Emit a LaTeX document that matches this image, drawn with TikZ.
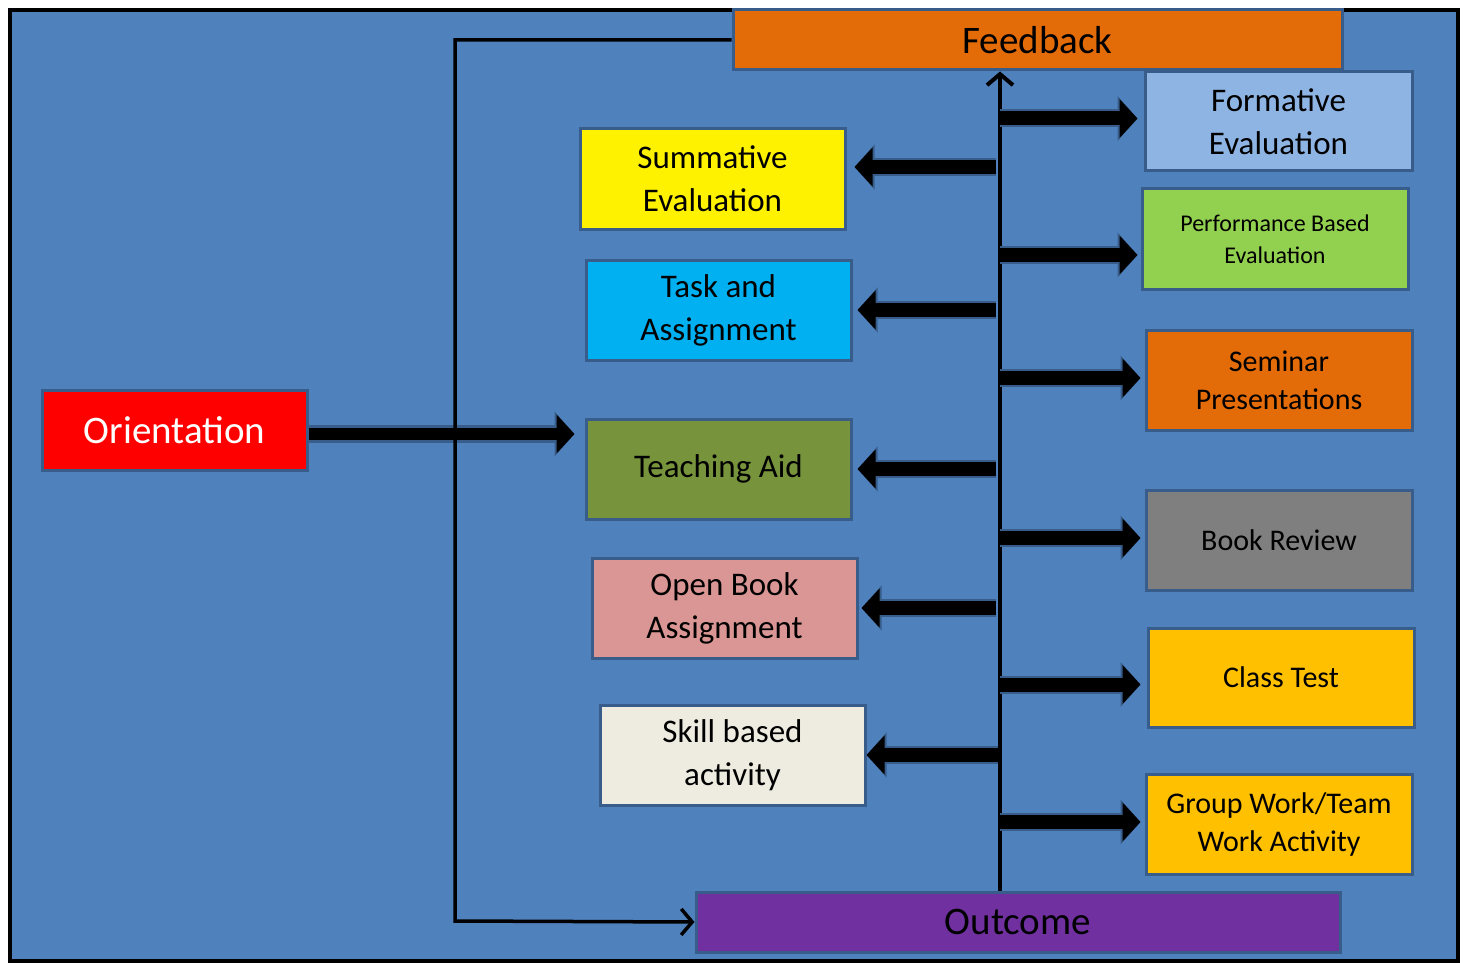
\documentclass[tikz,border=0pt]{standalone}
\usepackage{fontspec}
\setmainfont{Carlito}
\usetikzlibrary{arrows.meta}
\usetikzlibrary{positioning}
\definecolor{bgblue}{HTML}{4F81BD}
\definecolor{boxedge}{HTML}{385D8A}
\definecolor{fborange}{HTML}{E36C09}
\definecolor{formblue}{HTML}{8EB4E3}
\definecolor{perfgreen}{HTML}{92D050}
\definecolor{bookgray}{HTML}{7F7F7F}
\definecolor{amber}{HTML}{FFC000}
\definecolor{taskcyan}{HTML}{00B0F0}
\definecolor{olive}{HTML}{77933C}
\definecolor{rosy}{HTML}{D99694}
\definecolor{cream}{HTML}{EEECE1}
\definecolor{purple}{HTML}{7030A0}
\tikzset{
    box/.style={draw=boxedge, line width=3pt, minimum width=265pt, minimum height=100pt, align=center, inner sep=0pt, text=black},
    bigtext/.style={font=\fontsize{39}{46}\selectfont},
    midtext/.style={font=\fontsize{33}{43}\selectfont},
    lowtext/.style={font=\fontsize{30}{38}\selectfont},
    smalltext/.style={font=\fontsize{24}{32}\selectfont},
    fat/.style={line width=14pt, -{Triangle[length=18pt,width=38pt]}, preaction={draw=boxedge, line width=18pt, -{Triangle[length=20pt,width=44pt]}}},
    thin/.style={line width=3.5pt, -{Straight Barb[length=11pt,width=26pt]}}
}
\begin{document}
\begin{tikzpicture}[x=1pt, y=-1pt]
  \useasboundingbox (0,0) rectangle (1468,963);
  \fill[white] (0,0) rectangle (1468,963);
  \draw[fill=bgblue, line width=4pt] (10,10) rectangle (1458,961);
  % top and bottom bars
  \node[box, bigtext, fill=fborange, minimum width=609pt, minimum height=60pt] (feedback) at (1037.5,40) {Feedback};
  \node[box, bigtext, fill=purple, minimum width=644pt, minimum height=60pt] (outcome) at (1018,922) {Outcome};
  \node[box, bigtext, fill=red, text=white, minimum height=80pt] (orient) at (174.5,430) {Orientation};
  % left column
  \node[box, midtext, fill=yellow] (summ) at (712.5,179) {Summative\\Evaluation};
  \node[box, midtext, fill=taskcyan] (task) at (718.5,310) {Task and\\Assignment};
  \node[box, midtext, fill=olive] (teach) at (718.5,469) {Teaching Aid};
  \node[box, midtext, fill=rosy] (openbook) at (724.5,608) {Open Book\\Assignment};
  \node[box, midtext, fill=cream] (skill) at (732.5,755) {Skill based\\activity};
  % right column
  \node[box, midtext, fill=formblue, minimum width=267pt, minimum height=99pt] (form) at (1278.5,121.5) {Formative\\Evaluation};
  \node[box, smalltext, fill=perfgreen, minimum width=266pt] (perf) at (1275,239) {Performance Based\\Evaluation};
  \node[box, lowtext, fill=fborange, minimum width=266pt] (seminar) at (1279,380) {Seminar\\Presentations};
  \node[box, lowtext, fill=bookgray, minimum width=266pt] (book) at (1279,540) {Book Review};
  \node[box, lowtext, fill=amber, minimum width=266pt, minimum height=99pt] (classtest) at (1281,677.5) {Class Test};
  \node[box, lowtext, fill=amber, minimum width=266pt] (group) at (1279,824) {Group Work/Team\\Work Activity};
  % connectors
  \coordinate (spine) at (1000,0);
  \coordinate (loop) at (455,921);
  \draw[fat, line width=12pt] ([yshift=-4pt]orient.east) -- ([xshift=-10pt,yshift=-4pt]orient.east -| teach.west);
  \draw[thin] (feedback.west) -| (loop) -- (outcome.west);
  \draw[thin, line width=4pt] (outcome.north -| spine) -- (feedback.south -| spine);
  \draw[fat, shorten >=6pt] ([yshift=3pt]form.west -| spine) -- ([yshift=3pt]form.west);
  \draw[fat, shorten >=3pt] ([yshift=-16pt]perf.west -| spine) -- ([yshift=-16pt]perf.west);
  \draw[fat, shorten >=4pt] ([yshift=2pt]seminar.west -| spine) -- ([yshift=2pt]seminar.west);
  \draw[fat, shorten >=4pt] ([yshift=2pt]book.west -| spine) -- ([yshift=2pt]book.west);
  \draw[fat, shorten >=6pt] ([yshift=-7pt]classtest.west -| spine) -- ([yshift=-7pt]classtest.west);
  \draw[fat, shorten >=4pt] ([yshift=2pt]group.west -| spine) -- ([yshift=2pt]group.west);
  \draw[fat, shorten >=8pt] ([xshift=-4pt,yshift=12pt]summ.east -| spine) -- ([yshift=12pt]summ.east);
  \draw[fat, shorten >=5pt] ([xshift=-4pt]task.east -| spine) -- (task.east);
  \draw[fat, shorten >=5pt] ([xshift=-4pt]teach.east -| spine) -- (teach.east);
  \draw[fat, shorten >=3pt] ([xshift=-4pt]openbook.east -| spine) -- (openbook.east);
  \draw[fat] ([xshift=-2pt]skill.east -| spine) -- (skill.east);
\end{tikzpicture}
\end{document}
